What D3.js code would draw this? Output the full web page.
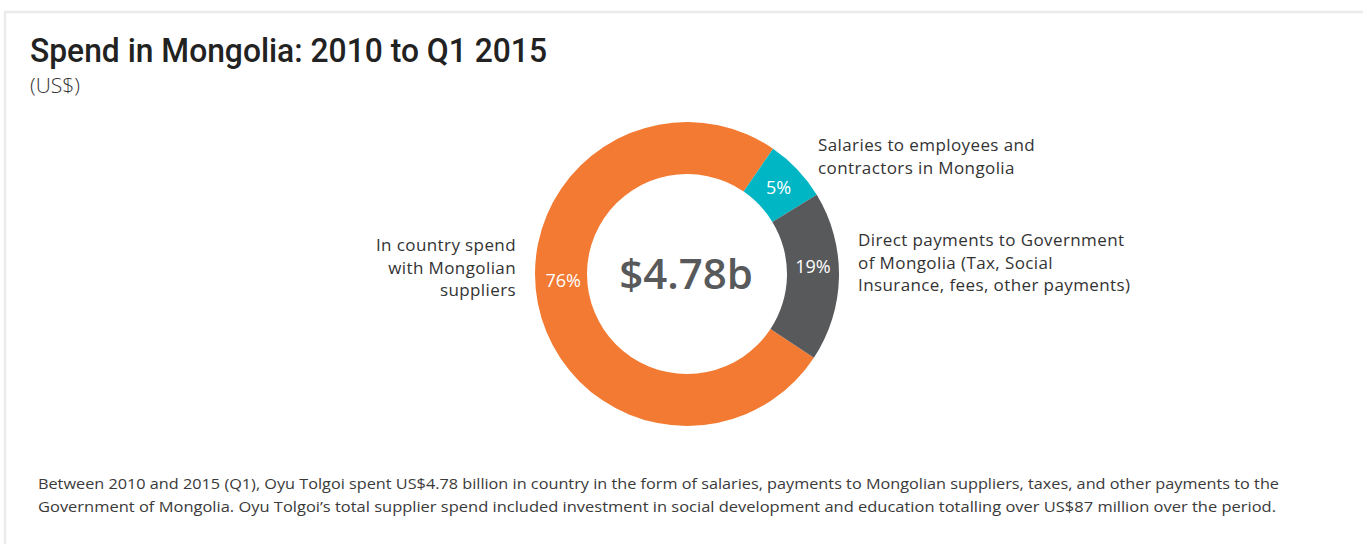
<!DOCTYPE html>
<html>
<head>
<meta charset="utf-8">
<script src="https://cdn.jsdelivr.net/npm/d3@7"></script>
<style>
  html,body{margin:0;padding:0;background:#fff;}
  svg{display:block;}
</style>
</head>
<body>
<script>
let width = 1363, height = 547;

// data
let categories = ['In country spend with Mongolian suppliers','Salaries to employees and contractors in Mongolia','Direct payments to Government of Mongolia (Tax, Social Insurance, fees, other payments)'];
let shares = [75.3, 6.7, 18.0]; // drawn shares
let pctLabels = ['76%','5%','19%'];
let catLines = [
    ['In country spend','with Mongolian','suppliers'],
    ['Salaries to employees and','contractors in Mongolia'],
    ['Direct payments to Government','of Mongolia (Tax, Social','Insurance, fees, other payments)']
];
let colors = ['#f27a32','#00b6c5','#58595b'];
let totalLabel = '$4.78b';
let title = 'Spend in Mongolia: 2010 to Q1 2015';
let subtitle = '(US$)';
let note = [
    'Between 2010 and 2015 (Q1), Oyu Tolgoi spent US$4.78 billion in country in the form of salaries, payments to Mongolian suppliers, taxes, and other payments to the',
    'Government of Mongolia. Oyu Tolgoi\u2019s total supplier spend included investment in social development and education totalling over US$87 million over the period.'
];

let font = '"Open Sans","Noto Sans",sans-serif';

let svg = d3.select('body').append('svg')
    .attr('width',width)
    .attr('height',height);

// panel frame (top + left only visible)
svg.append('path')
    .attr('d','M5,544 L5,12 L1363,12')
    .attr('fill','none')
    .attr('stroke','#ebebeb')
    .attr('stroke-width',2.5);

svg.append('text')
    .attr('x',30).attr('y',62)
    .attr('font-family','Roboto, sans-serif')
    .attr('font-weight',500)
    .attr('font-size',33)
    .attr('fill','#222')
    .attr('textLength',517)
    .attr('lengthAdjust','spacingAndGlyphs')
    .text(title);

svg.append('text')
    .attr('x',30).attr('y',93)
    .attr('font-family',font)
    .attr('font-weight',300)
    .attr('font-size',21)
    .attr('fill','#333')
    .text(subtitle);

// donut
let cx = 687, cy = 274, outerR = 152, innerR = 100;
let start = 123.4*Math.PI/180;
let pie = d3.pie().sort(null).value(d=>d)
    .startAngle(start).endAngle(start+2*Math.PI);
let arc = d3.arc().innerRadius(innerR).outerRadius(outerR);
let arcs = pie(shares);

let g = svg.append('g').attr('transform',`translate(${cx},${cy})`);
g.selectAll('path.slice')
    .data(arcs)
    .enter().append('path')
    .attr('class','slice')
    .attr('d',arc)
    .attr('fill',(d,i)=>colors[i]);

// percent labels: centroid, except the big slice which sits at 9 o'clock
let labelArc = d3.arc().innerRadius(126).outerRadius(126);
g.selectAll('text.pct')
    .data(arcs)
    .enter().append('text')
    .attr('class','pct')
    .attr('transform',(d,i)=>{
        let p;
        if(i===0){
            let a = 267*Math.PI/180;
            p = [126*Math.sin(a)+2,-126*Math.cos(a)];
        }else{
            p = labelArc.centroid(d);
        }
        if(i===2) p[1] -= 10;
        return `translate(${p[0]},${p[1]})`;
    })
    .attr('text-anchor','middle')
    .attr('dy','0.35em')
    .attr('font-family',font)
    .attr('font-size',18)
    .attr('fill','#fff')
    .text((d,i)=>pctLabels[i]);

g.append('text')
    .attr('text-anchor','middle')
    .attr('dy','0.35em')
    .attr('x',-1)
    .attr('font-family',font)
    .attr('font-weight',600)
    .attr('font-size',42)
    .attr('fill','#58595b')
    .text(totalLabel);

// category labels
let catPos = [
    {x:516, y:251, anchor:'end'},
    {x:818, y:151, anchor:'start'},
    {x:858, y:246, anchor:'start'}
];
catLines.forEach((lines,i)=>{
    let t = svg.append('text')
        .attr('font-family',font)
        .attr('font-size',17)
        .attr('letter-spacing',0.4)
        .attr('fill','#333')
        .attr('text-anchor',catPos[i].anchor);
    lines.forEach((l,j)=>{
        t.append('tspan')
            .attr('x',catPos[i].x)
            .attr('y',catPos[i].y + j*22.5)
            .text(l);
    });
});

// footnote
let noteWidths = [1241,1238];
note.forEach((l,i)=>{
    svg.append('text')
        .attr('x',38).attr('y',489 + i*23)
        .attr('font-family',font)
        .attr('font-size',15)
        .attr('fill','#3a3a3a')
        .attr('textLength',noteWidths[i])
        .attr('lengthAdjust','spacingAndGlyphs')
        .text(l);
});
</script>
</body>
</html>
